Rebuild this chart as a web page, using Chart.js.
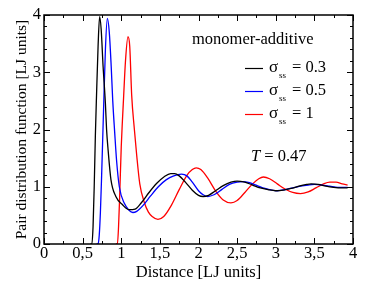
<!DOCTYPE html>
<html>
<head>
<meta charset="utf-8">
<script src="https://cdn.jsdelivr.net/npm/chart.js@4.4.1/dist/chart.umd.min.js"></script>
<style>
  html, body { margin: 0; padding: 0; background: #fff; }
  #wrap { width: 366px; height: 295px; }
</style>
</head>
<body>
<div id="wrap"><canvas id="myChart" width="366" height="295"></canvas></div>
<script>
// Datos: g(r) para tres valores de sigma_ss
const r_03 = [0.60, 0.62, 0.635, 0.65, 0.665, 0.68, 0.70, 0.72, 0.74, 0.765, 0.795, 0.81, 0.83, 0.867, 0.93, 1.02, 1.10, 1.18, 1.26, 1.36, 1.46, 1.56, 1.64, 1.69, 1.75, 1.83, 1.92, 2.00, 2.06, 2.13, 2.22, 2.32, 2.42, 2.50, 2.60, 2.70, 2.80, 2.90, 3.00, 3.10, 3.20, 3.30, 3.40, 3.46, 3.55, 3.65, 3.75, 3.85, 3.93];
const g_03 = [0, 0, 0.3, 1.0, 1.9, 2.6, 3.45, 3.97, 3.75, 3.1, 2.45, 2.0, 1.64, 1.12, 0.83, 0.68, 0.60, 0.61, 0.72, 0.9, 1.06, 1.18, 1.23, 1.23, 1.19, 1.08, 0.94, 0.85, 0.83, 0.85, 0.93, 1.02, 1.08, 1.10, 1.08, 1.03, 0.98, 0.95, 0.93, 0.94, 0.97, 1.01, 1.04, 1.05, 1.04, 1.01, 0.99, 0.98, 0.98];

const r_05 = [0.68, 0.70, 0.715, 0.73, 0.745, 0.77, 0.795, 0.82, 0.845, 0.87, 0.89, 0.915, 0.94, 0.975, 1.04, 1.10, 1.15, 1.20, 1.28, 1.38, 1.48, 1.58, 1.68, 1.78, 1.85, 1.92, 2.00, 2.06, 2.12, 2.20, 2.30, 2.40, 2.50, 2.57, 2.66, 2.76, 2.86, 2.95, 3.02, 3.12, 3.22, 3.32, 3.42, 3.50, 3.60, 3.70, 3.80, 3.93];
const g_05 = [0, 0, 0.15, 0.55, 1.15, 2.3, 3.4, 3.94, 3.7, 3.1, 2.5, 1.95, 1.45, 1.0, 0.71, 0.59, 0.55, 0.57, 0.67, 0.84, 1.0, 1.12, 1.19, 1.22, 1.19, 1.08, 0.93, 0.86, 0.83, 0.86, 0.95, 1.04, 1.08, 1.09, 1.07, 1.02, 0.97, 0.94, 0.93, 0.95, 0.98, 1.01, 1.03, 1.04, 1.03, 1.01, 0.99, 0.99];

const r_1 = [0.93, 0.95, 0.965, 0.98, 1.0, 1.015, 1.03, 1.055, 1.087, 1.11, 1.135, 1.17, 1.20, 1.24, 1.30, 1.35, 1.40, 1.475, 1.55, 1.65, 1.75, 1.85, 1.92, 1.97, 2.03, 2.12, 2.22, 2.32, 2.42, 2.50, 2.60, 2.70, 2.78, 2.84, 2.92, 3.02, 3.12, 3.22, 3.32, 3.42, 3.52, 3.62, 3.70, 3.78, 3.86, 3.93];
const g_1 = [0, 0, 0.3, 0.85, 1.7, 2.15, 2.55, 3.2, 3.62, 3.45, 2.6, 2.0, 1.55, 1.05, 0.72, 0.56, 0.48, 0.43, 0.48, 0.68, 0.95, 1.2, 1.3, 1.33, 1.3, 1.15, 0.93, 0.77, 0.72, 0.76, 0.9, 1.05, 1.14, 1.17, 1.14, 1.05, 0.96, 0.9, 0.88, 0.91, 0.98, 1.05, 1.08, 1.08, 1.05, 1.03];

const sigma_labels = ['0.3', '0.5', '1'];
const line_colors = ['#000000', '#0000ff', '#ff0000'];
const x_ticks = [0, 0.5, 1, 1.5, 2, 2.5, 3, 3.5, 4];
const y_ticks = [0, 1, 2, 3, 4];

const SERIF = '"Liberation Serif", "DejaVu Serif", serif';

function toPoints(xs, ys) {
    return xs.map((x, i) => ({ x: x, y: ys[i] }));
}

function isMajor(v, list) {
    return list.some(t => Math.abs(t - v) < 1e-6);
}

// Plugin: marco, marcas hacia dentro, leyenda y texto T
const decoPlugin = {
    id: 'deco',
    afterDraw(chart) {
        const c = chart.ctx;
        const a = chart.chartArea;
        const xs = chart.scales.x;
        const ys = chart.scales.y;
        c.save();
        c.strokeStyle = '#000';
        c.lineWidth = 1;
        // marcas eje x (abajo y arriba)
        for (let v = 0; v <= 4.0001; v += 0.25) {
            const px = Math.round(xs.getPixelForValue(v)) + 0.5;
            const len = isMajor(v, x_ticks) ? 6 : 3;
            c.beginPath();
            c.moveTo(px, a.bottom); c.lineTo(px, a.bottom - len);
            c.moveTo(px, a.top); c.lineTo(px, a.top + len);
            c.stroke();
        }
        // marcas eje y (izquierda y derecha)
        for (let k = 0; k <= 20; k++) {
            const v = k * 0.2;
            const py = Math.round(ys.getPixelForValue(v)) + 0.5;
            const len = isMajor(v, y_ticks) ? 6 : 3;
            c.beginPath();
            c.moveTo(a.left, py); c.lineTo(a.left + len, py);
            c.moveTo(a.right, py); c.lineTo(a.right - len, py);
            c.stroke();
        }
        // marco
        c.lineWidth = 1.5;
        c.strokeRect(a.left, a.top, a.right - a.left, a.bottom - a.top);

        // leyenda
        c.fillStyle = '#000';
        c.textBaseline = 'middle';
        c.textAlign = 'left';
        c.font = '16.5px ' + SERIF;
        c.fillText('monomer-additive', 192, 40);
        const rows = [68, 91, 114];
        for (let i = 0; i < sigma_labels.length; i++) {
            const y = rows[i];
            c.strokeStyle = line_colors[i];
            c.lineWidth = 1.2;
            c.beginPath();
            c.moveTo(245, y + 0.5); c.lineTo(263, y + 0.5);
            c.stroke();
            c.fillStyle = '#000';
            c.font = '17px ' + SERIF;
            c.fillText('\u03c3', 269, y);
            c.font = '9px ' + SERIF;
            c.fillText('ss', 279, y + 8);
            c.font = '16.5px ' + SERIF;
            c.fillText('= ' + sigma_labels[i], 292, y);
        }
        // temperatura
        c.font = 'italic 16.5px ' + SERIF;
        c.fillText('T', 251, 157);
        const wT = c.measureText('T').width;
        c.font = '16.5px ' + SERIF;
        c.fillText(' = 0.47', 251 + wT, 157);
        c.restore();
    }
};

const ctx = document.getElementById('myChart').getContext('2d');

const datasets = [
    toPoints(r_03, g_03),
    toPoints(r_05, g_05),
    toPoints(r_1, g_1)
].map((pts, i) => ({
    label: 'sigma_ss = ' + sigma_labels[i],
    data: pts,
    borderColor: line_colors[i],
    borderWidth: 1.3,
    pointRadius: 0,
    fill: false,
    cubicInterpolationMode: 'monotone'
}));

const chart = new Chart(ctx, {
    type: 'line',
    data: { datasets: datasets },
    plugins: [decoPlugin],
    options: {
        responsive: false,
        animation: false,
        layout: { padding: { top: 15, right: 13, left: 0, bottom: 12 } },
        plugins: {
            legend: { display: false },
            tooltip: { enabled: false }
        },
        scales: {
            x: {
                type: 'linear',
                min: 0,
                max: 4,
                grid: { display: false, drawTicks: false },
                border: { display: false },
                ticks: {
                    stepSize: 0.5,
                    padding: 0,
                    maxRotation: 0,
                    autoSkip: false,
                    color: '#000',
                    font: { family: SERIF, size: 16.5 },
                    callback: v => String(v).replace('.', ',')
                },
                title: {
                    display: true,
                    text: 'Distance [LJ units]',
                    color: '#000',
                    font: { family: SERIF, size: 16.5 },
                    padding: { top: 0, bottom: 0 }
                },
                afterFit: s => { s.height = 39; }
            },
            y: {
                min: 0,
                max: 4,
                grid: { display: false, drawTicks: false },
                border: { display: false },
                ticks: {
                    stepSize: 1,
                    padding: 3,
                    color: '#000',
                    font: { family: SERIF, size: 16.5 }
                },
                title: {
                    display: true,
                    text: 'Pair distribution function [LJ units]',
                    color: '#000',
                    font: { family: SERIF, size: 15.5 },
                    padding: { top: 13, bottom: 2 }
                },
                afterFit: s => { s.width = 44; }
            }
        }
    }
});
</script>
</body>
</html>
